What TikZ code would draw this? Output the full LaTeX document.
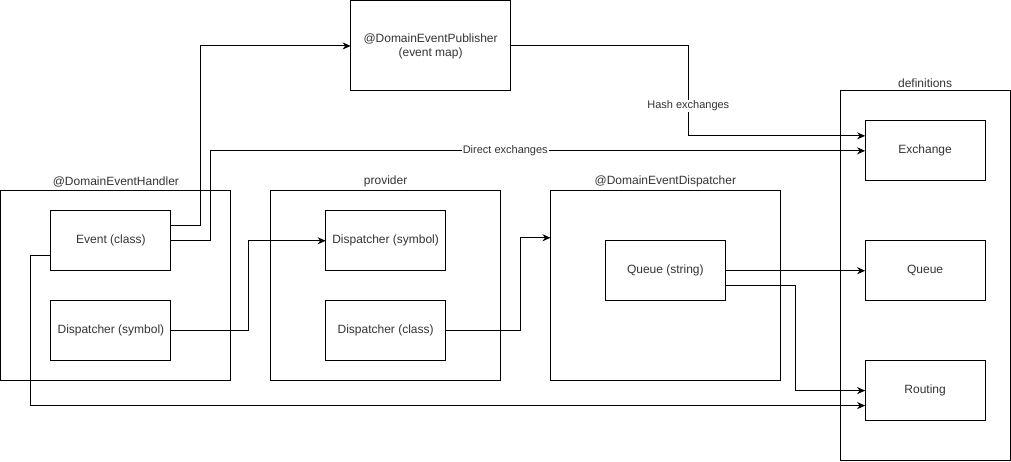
\documentclass[tikz,border=0pt]{standalone}
\usepackage{fontspec}
\setmainfont{Liberation Sans}
\usetikzlibrary{fit,positioning,arrows.meta}

\begin{document}
\begin{tikzpicture}[x=1pt,y=1pt]
 	\tikzstyle{item}=[rectangle, draw=black, line width=1pt, minimum width=120pt, minimum height=60pt, inner sep=0pt, outer sep=0pt, text=black!80, font=\fontsize{12}{14}\selectfont, node distance=30pt]
 	\tikzstyle{group}=[rectangle, draw=black, line width=1pt, inner sep=0pt, outer sep=0pt, label distance=-2pt]
 	\tikzstyle{connect}=[-{Stealth[length=8pt,width=7pt,inset=2.5pt]}, line width=1pt]
 	\tikzstyle{lbl}=[fill=white, inner sep=1pt, text=black!80, font=\fontsize{11}{13}\selectfont]
 	\tikzset{every label/.style={text=black!80, font=\fontsize{12}{14}\selectfont}}
 	\useasboundingbox (-1,1) rectangle (1011,-461);
 	\node[item] (evt) at (110,-240) {Event (class)};
 	\node[item] (hsym) [below=of evt] {Dispatcher (symbol)};
 		\node[item] (psym) [right=155pt of evt] {Dispatcher (symbol)};
 		\node[item] (pcls) [below=of psym] {Dispatcher (class)};
 	\node[item] (qstr) [right=160pt of psym, yshift=-30pt] {Queue (string)};
 	\node[item] (que) [right=140pt of qstr] {Queue};
 	\node[item] (exch) [above=60pt of que] {Exchange};
 	\node[item] (rout) [below=60pt of que] {Routing};
 	\node[item, minimum width=160pt, minimum height=90pt, align=center] (pub) [above=120pt of psym, xshift=45pt] {@DomainEventPublisher\\(event map)};
 	\node[group, inner xsep=55pt, inner ysep=20pt, fit=(evt)(hsym), xshift=5pt, label=above:@DomainEventHandler] (handler) {};
 	\node[group, inner xsep=55pt, inner ysep=20pt, fit=(psym)(pcls), label=above:provider] (prov) {};
 	\node[group, inner xsep=55pt, inner ysep=65pt, fit=(qstr), yshift=-15pt, label=above:@DomainEventDispatcher] (disp) {};
 	\node[group, inner xsep=25pt, inner ysep=35pt, fit=(exch)(rout), yshift=-5pt, label=above:definitions] (defs) {};
 	\draw[connect] ([yshift=15pt]evt.east) -- ++(30,0) |- (pub.west);
 	\draw[connect] (evt.east) -- ++(40,0) |- node[lbl, pos=0.725] {Direct exchanges} (exch.west);
 	\draw[connect] (pub.east) -- ++(178,0) |- node[lbl, pos=0.333] {Hash exchanges} ([yshift=15pt]exch.west);
 	\draw[connect] ([yshift=-15pt]evt.west) -- ++(-20,0) |- ([yshift=-15pt]rout.west);
 	\draw[connect] (hsym.east) -- ++(78,0) |- (psym.west);
 	\draw[connect] (pcls.east) -- ++(75,0) |- ([yshift=48pt]disp.west);
 	\draw[connect] (qstr.east) -- (que.west);
 	\draw[connect] ([yshift=-15pt]qstr.east) -- ++(70,0) |- (rout.west);
\end{tikzpicture}
\end{document}
